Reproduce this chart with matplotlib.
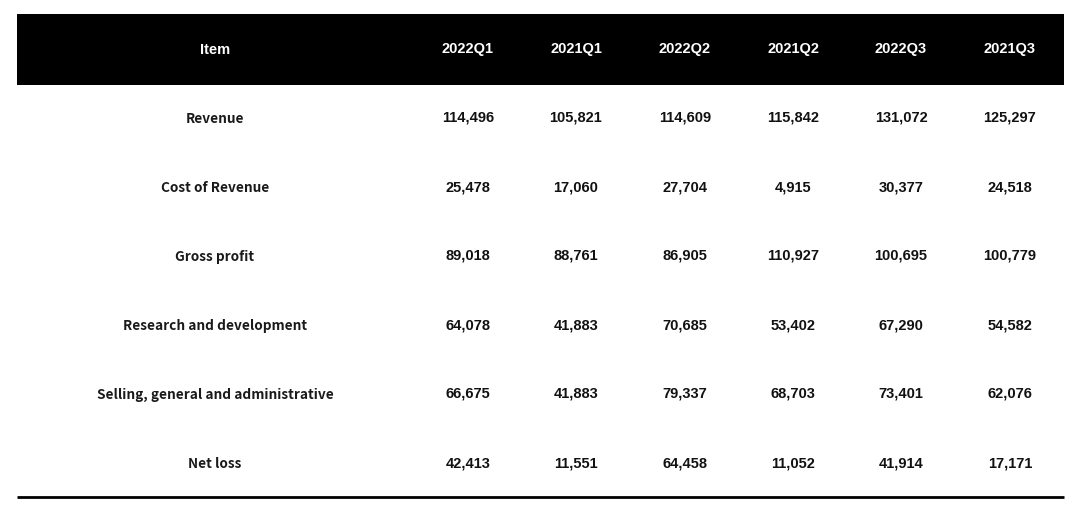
import matplotlib.pyplot as plt
from matplotlib.patches import Rectangle

# table contents
columns = ['2022Q1', '2021Q1', '2022Q2', '2021Q2', '2022Q3', '2021Q3']
items = ['Revenue', 'Cost of Revenue', 'Gross profit', 'Research and development',
         'Selling, general and administrative', 'Net loss']
revenue = [114496, 105821, 114609, 115842, 131072, 125297]
cost_of_revenue = [25478, 17060, 27704, 4915, 30377, 24518]
gross_profit = [89018, 88761, 86905, 110927, 100695, 100779]
r_and_d = [64078, 41883, 70685, 53402, 67290, 54582]
sga = [66675, 41883, 79337, 68703, 73401, 62076]
net_loss = [42413, 11551, 64458, 11052, 41914, 17171]
rows = [revenue, cost_of_revenue, gross_profit, r_and_d, sga, net_loss]

W, H = 1080, 512
fig = plt.figure(figsize=(W / 100, H / 100), dpi=100)
ax = fig.add_axes([0, 0, 1, 1])
ax.set_xlim(0, W)
ax.set_ylim(H, 0)
ax.axis('off')

# layout (pixels)
left, right = 17, 1064
head_top, head_bot = 14, 85
item_x = 215
col_x = [468, 576, 685, 793, 901, 1010]
row_y0, row_dy = 118, 69
num_font = dict(family=['Liberation Sans', 'DejaVu Sans'], fontsize=10.5, fontweight='bold')
item_font = dict(family=['Noto Sans CJK SC', 'DejaVu Sans'], fontsize=9.8, fontweight='bold')

ax.add_patch(Rectangle((left, head_top), right - left, head_bot - head_top,
                       facecolor='black', edgecolor='none'))
hy = (head_top + head_bot) / 2
ax.text(item_x, hy, 'Item', color='white', ha='center', va='center', **num_font)
for x, c in zip(col_x, columns):
    ax.text(x, hy, c, color='white', ha='center', va='center', **num_font)

for i, (name, vals) in enumerate(zip(items, rows)):
    y = row_y0 + i * row_dy
    ax.text(item_x, y + 1, name, color='#1a1a1a', ha='center', va='center', **item_font)
    for x, v in zip(col_x, vals):
        ax.text(x, y, f'{v:,}', color='#111111', ha='center', va='center', **num_font)

ax.plot([left, right], [497, 497], color='black', lw=2, solid_capstyle='butt')

fig.savefig('out.png', dpi=100)
